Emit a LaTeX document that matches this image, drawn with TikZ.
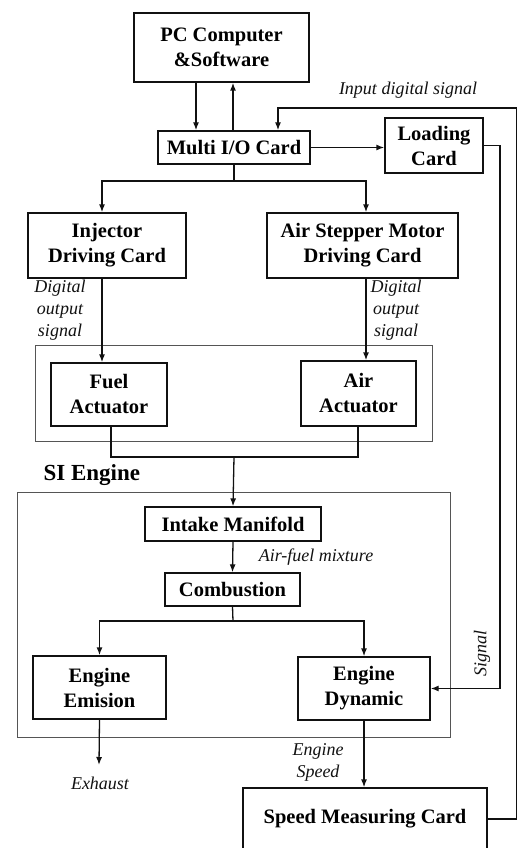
\documentclass[tikz,border=0pt]{standalone}
\usepackage{fontspec}
\setmainfont{Liberation Serif}
\definecolor{EngInk}{HTML}{111111}
\definecolor{EngFrame}{HTML}{555555}
\usetikzlibrary{arrows.meta}

\begin{document}
\begin{tikzpicture}[x=1pt,y=-1pt,>={Latex[length=8pt,width=6pt]},
    card/.style={draw=EngInk,line width=1.3pt,inner sep=0pt,align=center,
      font=\fontsize{20.5}{25}\selectfont\bfseries},
    grp/.style={draw=EngFrame,line width=0.8pt},
    lab/.style={font=\fontsize{18}{22}\selectfont\itshape,align=center,text=EngInk},
    wire/.style={draw=EngInk,line width=1.3pt}]
    \useasboundingbox (0,0) rectangle (518,848);
    % frames round the actuators and the engine
    \draw[grp] (35,345) rectangle (432,441);
    \draw[grp] (17,492) rectangle (450,737);
    \node[font=\fontsize{23}{27}\selectfont\bfseries,anchor=west] (eng) at (40,475) {SI Engine};

    \node[card,minimum width=175,minimum height=69] (pc) at (221.5,47.5) {PC Computer\\\&Software};
    \node[card,minimum width=152,minimum height=33] (mio) at (234,147.5) {Multi I/O Card};
    \node[card,minimum width=98,minimum height=55] (load) at (434,145.5) {Loading\\Card};
    \node[card,minimum width=158,minimum height=65] (inj) at (107,245.5) {Injector\\Driving Card};
    \node[card,minimum width=191,minimum height=65] (asm) at (362.5,245.5) {Air Stepper Motor\\Driving Card};
    \node[card,minimum width=116,minimum height=63] (fuel) at (109,394.5) {Fuel\\Actuator};
    \node[card,minimum width=115,minimum height=65] (airact) at (358.5,393.5) {Air\\Actuator};
    \node[card,minimum width=176,minimum height=34] (intake) at (233,524) {Intake Manifold};
    \node[card,minimum width=135,minimum height=33] (comb) at (232.5,589.5) {Combustion};
    \node[card,minimum width=133,minimum height=63] (emis) at (99.5,687.5) {Engine\\Emision};
    \node[card,minimum width=132,minimum height=63] (dyn) at (364,688.5) {Engine\\Dynamic};
    \node[card,minimum width=244,minimum height=62] (speed) at (365,819) {Speed Measuring Card};

    \coordinate (split1) at (234,181);
    \coordinate (join) at (234,457);
    \coordinate (split2) at (233,621);
    \coordinate (exhaust) at (99,765);

    % PC and I/O card
    \draw[wire,->] (196,0 |- pc.south) -- (196,0 |- mio.north);
    \draw[wire,->] (233,0 |- mio.north) -- (233,0 |- pc.south);
    \draw[wire,->] (mio.east) -- (mio.east -| load.west);
    \draw[wire,->] (speed.east) -| (516.5,108) -| (278,0 |- mio.north);
    \node[lab] (insig) at (408,90) {Input digital signal};
    \draw[wire,->] (load.east) -| (500,0 |- dyn.east) -- (dyn.east);
    \node[lab,rotate=90] (sig) at (482,653) {Signal};

    % driving cards and actuators
    \draw[wire] (mio.south) -- (split1);
    \draw[wire,->] (split1) -| (102,0 |- inj.north);
    \draw[wire,->] (split1) -| (366,0 |- asm.north);
    \draw[wire,->] (102,0 |- inj.south) -- (102,0 |- fuel.north);
    \draw[wire,->] (366,0 |- asm.south) -- (366,0 |- airact.north);
    \node[lab] (dol) at (60,310) {Digital\\output\\signal};
    \node[lab] (dor) at (396,310) {Digital\\output\\signal};
    \draw[wire] (111,0 |- fuel.south) |- (join) -| (358,0 |- airact.south);
    \draw[wire,->] (join) -- (intake.north);

    % engine
    \draw[wire,->] (intake.south) -- (comb.north);
    \node[lab] (afm) at (316,557) {Air-fuel mixture};
    \draw[wire] (comb.south) -- (split2);
    \draw[wire,->] (split2) -| (emis.north);
    \draw[wire,->] (split2) -| (dyn.north);
    \draw[wire,->] (emis.south) -- (exhaust);
    \node[lab] (exh) at (100,783) {Exhaust};
    \draw[wire,->] (dyn.south) -- (dyn.south |- speed.north);
    \node[lab] (espd) at (318,762) {Engine\\Speed};
\end{tikzpicture}
\end{document}
